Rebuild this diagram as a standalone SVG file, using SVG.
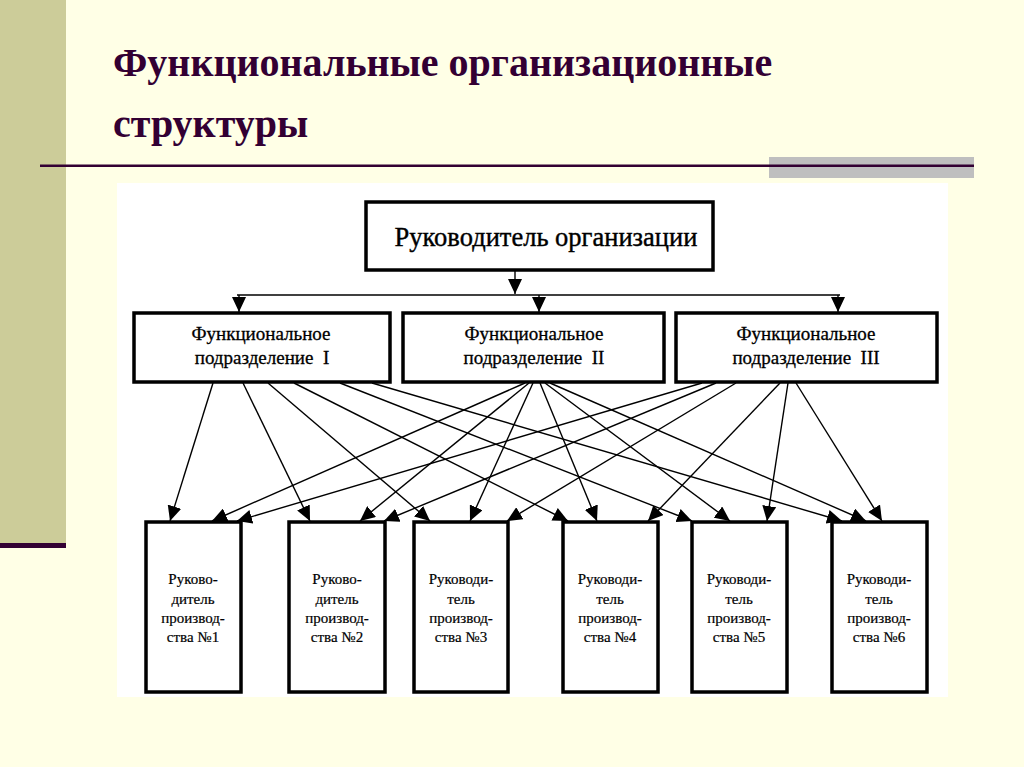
<svg xmlns="http://www.w3.org/2000/svg" width="1024" height="767" viewBox="0 0 1024 767">
<style>
.title{font-family:"Liberation Serif","DejaVu Serif",serif;font-weight:bold;font-size:40px;fill:#330033}
.box{fill:#fff;stroke:#000;stroke-width:3.5}
.t1{font-family:"Liberation Serif","DejaVu Serif",serif;font-size:26.5px;fill:#000;text-anchor:middle;stroke:#000;stroke-width:0.4}
.t2{font-family:"Liberation Serif","DejaVu Serif",serif;font-size:19px;fill:#000;text-anchor:middle;stroke:#000;stroke-width:0.3}
.t3{font-family:"Liberation Serif","DejaVu Serif",serif;font-size:15px;fill:#000;text-anchor:middle;stroke:#000;stroke-width:0.2}
.ln{stroke:#000;stroke-width:1.4;fill:none;marker-end:url(#ah)}
.pl{stroke:#000;stroke-width:1.6;fill:none}
</style>
<defs>
<marker id="ah" markerUnits="userSpaceOnUse" markerWidth="15" markerHeight="14" viewBox="0 0 15 14" refX="15" refY="7" orient="auto">
<path d="M0,0 L15,7 L0,14 Z" fill="#000"/>
</marker>
</defs>
<rect width="1024" height="767" fill="#FFFFE6"/>
<rect x="0" y="0" width="66" height="543" fill="#CCCC99"/>
<rect x="0" y="543" width="66" height="5" fill="#330033"/>
<rect x="769" y="157" width="205" height="21" fill="#BFBFBF"/>
<rect x="40" y="164.5" width="934" height="2.5" fill="#330033"/>
<text class="title" x="113" y="76">Функциональные организационные</text>
<text class="title" x="113" y="137">структуры</text>
<rect x="117" y="183" width="831" height="514" fill="#fff"/>

<g id="connectors">
<line class="ln" x1="515" y1="271" x2="515" y2="294"/>
<line class="pl" x1="237" y1="295" x2="840" y2="295"/>
<line class="ln" x1="239" y1="295" x2="239" y2="312"/>
<line class="ln" x1="539" y1="295" x2="539" y2="312"/>
<line class="ln" x1="838" y1="295" x2="838" y2="312"/>

<line class="ln" x1="213" y1="383" x2="170" y2="521"/>
<line class="ln" x1="243" y1="383" x2="310" y2="521"/>
<line class="ln" x1="268" y1="383" x2="430" y2="521"/>
<line class="ln" x1="294" y1="383" x2="568" y2="521"/>
<line class="ln" x1="340" y1="383" x2="692" y2="521"/>
<line class="ln" x1="372" y1="383" x2="842" y2="521"/>

<line class="ln" x1="525" y1="383" x2="212" y2="521"/>
<line class="ln" x1="529" y1="383" x2="360" y2="521"/>
<line class="ln" x1="533" y1="383" x2="470" y2="521"/>
<line class="ln" x1="540" y1="383" x2="597" y2="521"/>
<line class="ln" x1="545" y1="383" x2="730" y2="521"/>
<line class="ln" x1="550" y1="383" x2="866" y2="521"/>

<line class="ln" x1="702" y1="383" x2="237" y2="521"/>
<line class="ln" x1="716" y1="383" x2="384" y2="521"/>
<line class="ln" x1="736" y1="383" x2="507" y2="521"/>
<line class="ln" x1="780" y1="383" x2="648" y2="521"/>
<line class="ln" x1="788" y1="383" x2="767" y2="521"/>
<line class="ln" x1="796" y1="383" x2="882" y2="521"/>
</g>

<g id="top">
<rect class="box" x="366" y="202" width="347" height="68"/>
<text class="t1" x="546" y="246">Руководитель организации</text>
</g>

<g id="f1">
<rect class="box" x="134" y="313" width="256" height="69"/>
<text class="t2" x="261" y="340">Функциональное</text>
<text class="t2" x="262" y="364" xml:space="preserve">подразделение  I</text>
</g>
<g id="f2">
<rect class="box" x="403" y="313" width="261" height="69"/>
<text class="t2" x="534" y="340">Функциональное</text>
<text class="t2" x="534" y="364" xml:space="preserve">подразделение  II</text>
</g>
<g id="f3">
<rect class="box" x="676" y="313" width="261" height="69"/>
<text class="t2" x="806" y="340">Функциональное</text>
<text class="t2" x="806" y="364" xml:space="preserve">подразделение  III</text>
</g>

<g id="p1">
<rect class="box" x="146" y="522" width="95" height="170"/>
<text class="t3" x="193" y="584">Руково-</text>
<text class="t3" x="193" y="604">дитель</text>
<text class="t3" x="193" y="623">производ-</text>
<text class="t3" x="193" y="642">ства №1</text>
</g>
<g id="p2">
<rect class="box" x="289" y="522" width="96" height="170"/>
<text class="t3" x="337" y="584">Руково-</text>
<text class="t3" x="337" y="604">дитель</text>
<text class="t3" x="337" y="623">производ-</text>
<text class="t3" x="337" y="642">ства №2</text>
</g>
<g id="p3">
<rect class="box" x="414" y="522" width="94" height="170"/>
<text class="t3" x="461" y="584">Руководи-</text>
<text class="t3" x="461" y="604">тель</text>
<text class="t3" x="461" y="623">производ-</text>
<text class="t3" x="461" y="642">ства №3</text>
</g>
<g id="p4">
<rect class="box" x="563" y="522" width="95" height="170"/>
<text class="t3" x="610" y="584">Руководи-</text>
<text class="t3" x="610" y="604">тель</text>
<text class="t3" x="610" y="623">производ-</text>
<text class="t3" x="610" y="642">ства №4</text>
</g>
<g id="p5">
<rect class="box" x="692" y="522" width="95" height="170"/>
<text class="t3" x="739" y="584">Руководи-</text>
<text class="t3" x="739" y="604">тель</text>
<text class="t3" x="739" y="623">производ-</text>
<text class="t3" x="739" y="642">ства №5</text>
</g>
<g id="p6">
<rect class="box" x="832" y="522" width="95" height="170"/>
<text class="t3" x="879" y="584">Руководи-</text>
<text class="t3" x="879" y="604">тель</text>
<text class="t3" x="879" y="623">производ-</text>
<text class="t3" x="879" y="642">ства №6</text>
</g>
</svg>
